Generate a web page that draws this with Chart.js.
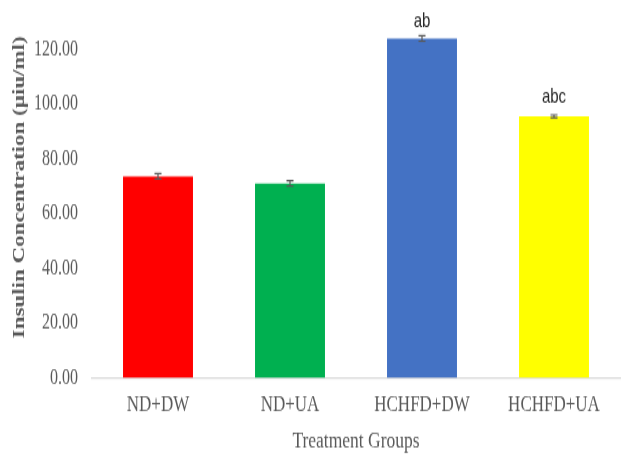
<!DOCTYPE html>
<html>
<head>
<meta charset="utf-8">
<script src="https://cdn.jsdelivr.net/npm/chart.js@4"></script>
<style>
html,body{margin:0;padding:0;background:#fff;overflow:hidden;}
#wrap{width:626px;height:338px;position:absolute;left:0;top:0;transform-origin:0 0;transform:scaleY(1.352);}
canvas{display:block;}
</style>
</head>
<body>
<div id="wrap"><canvas id="c" width="626" height="338"></canvas></div>
<script>
const categories = ["ND+DW", "ND+UA", "HCHFD+DW", "HCHFD+UA"];
const insulin = [73.6, 71.0, 123.9, 95.5];
const errors = [1.0, 1.0, 1.0, 0.5];
const sigLabels = ["", "", "ab", "abc"];
const barColors = ["#FF0000", "#00B050", "#4472C4", "#FFFF00"];
const yTicks = [0, 20, 40, 60, 80, 100, 120];
const yTitle = "Insulin Concentration (\u00B5iu/ml)";
const xTitle = "Treatment Groups";

const serif = "'Liberation Serif', 'Times New Roman', serif";

const overlay = {
  id: "overlay",
  afterDatasetsDraw(chart) {
    const ctx = chart.ctx;
    const y = chart.scales.y;
    const meta = chart.getDatasetMeta(0);
    ctx.save();
    meta.data.forEach((bar, i) => {
      const cx = bar.x;
      const top = y.getPixelForValue(insulin[i] + errors[i]);
      const bot = y.getPixelForValue(insulin[i] - errors[i]);
      ctx.strokeStyle = "#595959";
      ctx.lineWidth = 1.2;
      ctx.beginPath();
      ctx.moveTo(cx, top); ctx.lineTo(cx, bot);
      ctx.moveTo(cx - 3.5, top); ctx.lineTo(cx + 3.5, top);
      ctx.moveTo(cx - 3.5, bot); ctx.lineTo(cx + 3.5, bot);
      ctx.stroke();
      if (sigLabels[i]) {
        ctx.fillStyle = "#262626";
        ctx.font = "15px 'Liberation Sans Narrow', 'Arial Narrow', 'Liberation Sans', Arial, sans-serif";
        ctx.textAlign = "center";
        ctx.textBaseline = "alphabetic";
        ctx.fillText(sigLabels[i], cx, top - (i === 3 ? 9 : 6));
      }
    });
    ctx.restore();
  },
  afterDraw(chart) {
    const ctx = chart.ctx;
    ctx.save();
    ctx.translate(20, 138.5);
    ctx.rotate(-Math.PI / 2);
    ctx.fillStyle = "#595959";
    ctx.font = "bold 17px " + serif;
    ctx.textAlign = "center";
    ctx.textBaseline = "middle";
    ctx.fillText(yTitle, 0, 0);
    ctx.restore();
  }
};

new Chart(document.getElementById("c"), {
  type: "bar",
  data: {
    labels: categories,
    datasets: [{
      data: insulin,
      backgroundColor: barColors,
      borderWidth: 0,
      categoryPercentage: 1.0,
      barPercentage: 0.53
    }]
  },
  options: {
    responsive: false,
    animation: false,
    layout: { padding: { left: 10, right: 6, top: 0, bottom: 1 } },
    plugins: { legend: { display: false }, tooltip: { enabled: false } },
    scales: {
      x: {
        grid: { display: false, drawTicks: false },
        border: { display: true, color: "#D9D9D9", width: 1.2 },
        ticks: { color: "#595959", font: { family: serif, size: 17 }, padding: 9.5 },
        title: { display: true, text: xTitle, color: "#595959", font: { family: serif, size: 17.5 }, padding: { top: 0, bottom: 0 } },
        afterFit(scale) { scale.height = 57.4; }
      },
      y: {
        min: 0, max: 126.3,
        afterBuildTicks(scale) { scale.ticks = yTicks.map(v => ({ value: v })); },
        grid: { display: false, drawTicks: false },
        border: { display: false },
        ticks: { color: "#595959", font: { family: serif, size: 16 }, padding: 14,
          callback: v => Number(v).toFixed(2) },
        title: { display: false },
        afterFit(scale) { scale.width = 82; }
      }
    }
  },
  plugins: [overlay]
});
</script>
</body>
</html>
